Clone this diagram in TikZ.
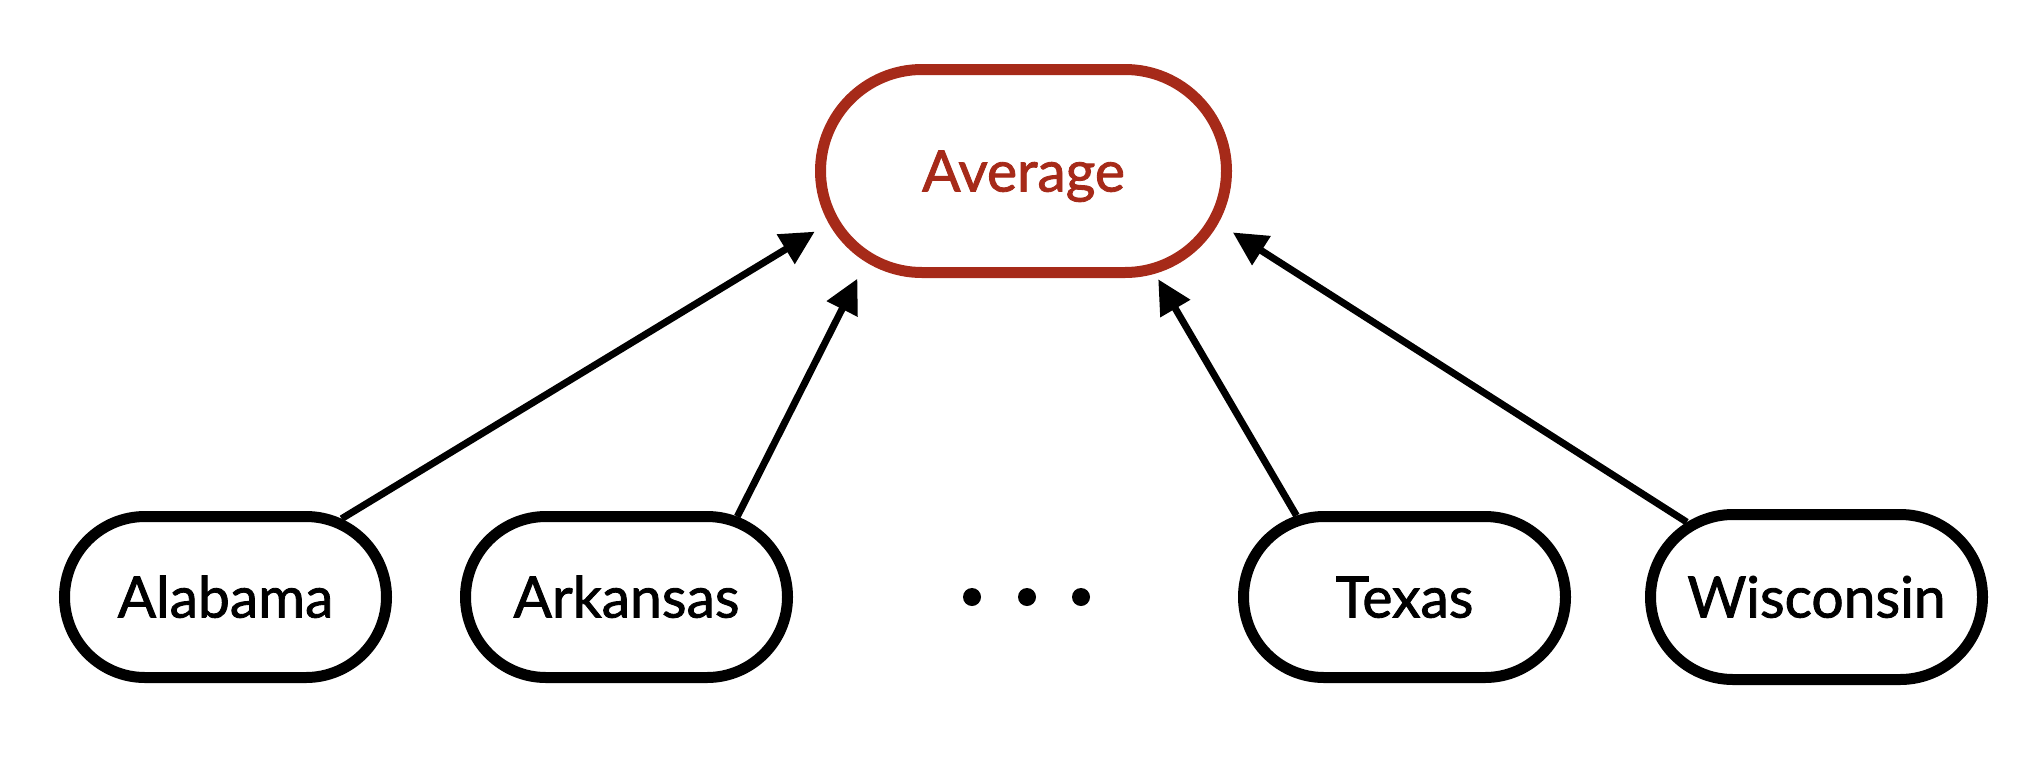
\documentclass[tikz,border=0pt]{standalone}
\usepackage{fontspec}
\setmainfont{Lato}
\newfontfamily\labelfont{Lato}[FakeBold=1.5]
\usetikzlibrary{arrows.meta,shapes.misc}
\definecolor{avgred}{RGB}{166,42,25}
\begin{document}
\begin{tikzpicture}[x=1pt,y=-1pt,
  statebox/.style={rounded rectangle, draw=black, line width=11pt,
    minimum width=322pt, minimum height=161pt, inner sep=0pt,
    font=\labelfont\fontsize{57}{60}\selectfont, text height=41pt, text depth=0pt},
  avgbox/.style={statebox, draw=avgred, text=avgred,
    minimum width=406pt, minimum height=203pt},
  arr/.style={draw=black, line width=7pt, -{Triangle[length=34pt,width=33pt]}},
  ellipsisdot/.style={circle, fill=black, inner sep=0pt, minimum size=18pt}]
\useasboundingbox (0,0) rectangle (2028,758);
\node[avgbox] (avg) at (1023.5,171) {Average};
\node[statebox] (al) at (225.5,597) {Alabama};
\node[statebox] (ar) at (626.5,597) {Arkansas};
\node[statebox] (tx) at (1404.5,597) {Texas};
\node[statebox, minimum width=332pt, minimum height=165pt] (wi) at (1816.5,597) {Wisconsin};
\node[ellipsisdot] (d1) at (972,597) {};
\node[ellipsisdot] (d2) at (1027,597) {};
\node[ellipsisdot] (d3) at (1081,597) {};
\draw[arr, shorten >=16.2pt] (al.34.6) -- (avg.195.1);
\draw[arr, shorten >=18.6pt] (ar.36.6) -- (avg.210.2);
\draw[arr, shorten >=6.4pt] (tx.143.3) -- (avg.322.2);
\draw[arr, shorten >=17.1pt] (wi.150.6) -- (avg.345.1);
\end{tikzpicture}
\end{document}
